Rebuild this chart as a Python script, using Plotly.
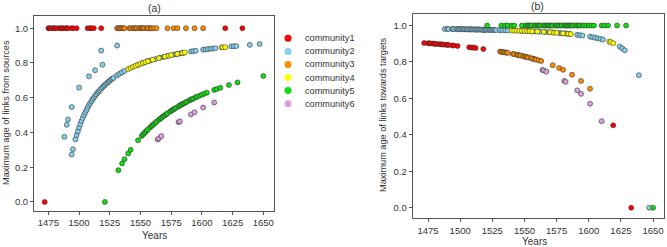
import plotly.graph_objects as go

W, H = 667, 247

names = ["community1", "community2", "community3", "community4", "community5", "community6"]
colors = ["#ff0000", "#87ceeb", "#ff8c00", "#ffff00", "#11dd11", "#dda0dd"]

# community1 (red)
c1_years = [1472, 1475, 1476, 1477, 1479, 1480, 1481, 1483, 1485, 1486, 1487, 1489, 1490,
            1491, 1494, 1495, 1498, 1507, 1509, 1510, 1512, 1518, 1557, 1619, 1633]
c1_src = [0.0] + [1.0] * 24
c1_tgt = [0.904, 0.903, 0.902, 0.902, 0.901, 0.900, 0.899, 0.898, 0.897, 0.896, 0.896, 0.894, 0.894,
          0.893, 0.891, 0.890, 0.888, 0.881, 0.879, 0.879, 0.877, 0.871, 0.817, 0.452, 0.0]

# community2 (sky blue)
c2_years = [1488, 1490, 1491, 1494, 1500, 1508, 1513, 1518, 1519, 1531,
            1494, 1495, 1497, 1498, 1499, 1500, 1501, 1502, 1503, 1504, 1505, 1506, 1507, 1508,
            1509, 1510, 1511, 1512, 1513, 1514, 1515, 1516, 1517, 1518, 1519, 1520, 1521, 1522,
            1523, 1524, 1525, 1526, 1527, 1528, 1531, 1533, 1535, 1537, 1548, 1552, 1556, 1558,
            1562, 1566, 1569, 1572, 1577, 1579, 1581, 1583, 1585, 1591, 1593, 1595, 1601, 1603,
            1605, 1607, 1609, 1611, 1624, 1626, 1628, 1639, 1647]
c2_src = [0.375, 0.444, 0.475, 0.546, 0.658, 0.723, 0.758, 0.871, 0.790, 0.900,
          0.273, 0.304, 0.360, 0.385, 0.407, 0.429, 0.448, 0.467, 0.484, 0.500, 0.515, 0.529,
          0.543, 0.556, 0.568, 0.579, 0.590, 0.600, 0.610, 0.619, 0.628, 0.636, 0.644, 0.652,
          0.660, 0.667, 0.673, 0.680, 0.686, 0.692, 0.698, 0.704, 0.709, 0.714, 0.729, 0.738,
          0.746, 0.754, 0.789, 0.800, 0.810, 0.814, 0.822, 0.830, 0.835, 0.840, 0.848, 0.850,
          0.853, 0.856, 0.858, 0.866, 0.868, 0.870, 0.876, 0.878, 0.880, 0.881, 0.883, 0.885,
          0.895, 0.896, 0.897, 0.904, 0.909]
c2_tgt = [0.981, 0.981, 0.981, 0.981, 0.980, 0.979, 0.978, 0.977, 0.977, 0.975,
          0.981, 0.981, 0.980, 0.980, 0.980, 0.980, 0.980, 0.980, 0.980, 0.979, 0.979, 0.979,
          0.979, 0.979, 0.979, 0.979, 0.978, 0.978, 0.978, 0.978, 0.978, 0.978, 0.977, 0.977,
          0.977, 0.977, 0.977, 0.977, 0.976, 0.976, 0.976, 0.976, 0.976, 0.975, 0.975, 0.974,
          0.974, 0.973, 0.971, 0.969, 0.968, 0.967, 0.966, 0.964, 0.963, 0.962, 0.959, 0.958,
          0.957, 0.955, 0.954, 0.949, 0.947, 0.945, 0.939, 0.936, 0.933, 0.930, 0.927, 0.923,
          0.885, 0.875, 0.864, 0.727, 0.0]

# community3 (orange)
c3_years = [1531, 1532, 1533, 1534, 1535, 1536, 1537, 1541, 1542, 1544, 1545, 1546, 1547, 1549,
            1550, 1551, 1552, 1553, 1555, 1556, 1558, 1559, 1561, 1563, 1572, 1577, 1580, 1587,
            1594, 1601]
c3_src = [1.0] * 30
c3_tgt = [0.857, 0.856, 0.855, 0.853, 0.852, 0.851, 0.850, 0.844, 0.843, 0.840, 0.838, 0.837,
          0.835, 0.832, 0.830, 0.828, 0.827, 0.825, 0.821, 0.819, 0.815, 0.813, 0.809, 0.805,
          0.782, 0.767, 0.757, 0.730, 0.696, 0.653]

# community4 (yellow)
c4_years = [1540, 1542, 1544, 1546, 1548, 1550, 1552, 1554, 1556, 1560, 1565, 1570, 1573, 1575,
            1580, 1584, 1586, 1616, 1617, 1619]
c4_src = [0.765, 0.771, 0.778, 0.784, 0.789, 0.795, 0.800, 0.805, 0.810, 0.818, 0.828, 0.837,
          0.842, 0.845, 0.852, 0.857, 0.860, 0.889, 0.890, 0.891]
c4_tgt = [0.973, 0.972, 0.972, 0.971, 0.971, 0.970, 0.969, 0.969, 0.968, 0.967, 0.965, 0.963,
          0.961, 0.960, 0.957, 0.955, 0.953, 0.912, 0.909, 0.903]

# community5 (green)
c5_years = [1521, 1532, 1535, 1537, 1540, 1542, 1548, 1551, 1552, 1553, 1554, 1555, 1556, 1558,
            1559, 1560, 1561, 1562, 1563, 1565, 1566, 1567, 1568, 1569, 1570, 1571, 1572, 1574,
            1575, 1576, 1577, 1578, 1579, 1581, 1582, 1583, 1584, 1585, 1586, 1587, 1588, 1590,
            1591, 1592, 1593, 1595, 1596, 1598, 1600, 1602, 1604, 1610, 1612, 1615, 1622, 1629,
            1650]
c5_src = [0.0, 0.183, 0.222, 0.246, 0.279, 0.300, 0.355, 0.380, 0.388, 0.395, 0.402, 0.410,
          0.417, 0.430, 0.437, 0.443, 0.449, 0.456, 0.462, 0.473, 0.479, 0.484, 0.490, 0.495,
          0.500, 0.505, 0.510, 0.520, 0.524, 0.529, 0.533, 0.538, 0.542, 0.550, 0.555, 0.559,
          0.563, 0.566, 0.570, 0.574, 0.578, 0.585, 0.588, 0.592, 0.595, 0.602, 0.605, 0.611,
          0.617, 0.623, 0.629, 0.645, 0.650, 0.657, 0.673, 0.688, 0.725]
c5_tgt = [1.0] * 56 + [0.0]

# community6 (plum)
c6_years = [1564, 1565, 1567, 1581, 1582, 1591, 1594, 1601, 1610]
c6_src = [0.359, 0.366, 0.379, 0.459, 0.464, 0.504, 0.516, 0.543, 0.572]
c6_tgt = [0.756, 0.753, 0.747, 0.696, 0.691, 0.644, 0.625, 0.571, 0.475]

groups = [
    (c1_years, c1_src, c1_tgt),
    (c2_years, c2_src, c2_tgt),
    (c3_years, c3_src, c3_tgt),
    (c4_years, c4_src, c4_tgt),
    (c5_years, c5_src, c5_tgt),
    (c6_years, c6_src, c6_tgt),
]

x_ticks = [1475, 1500, 1525, 1550, 1575, 1600, 1625, 1650]
y_ticks = [0.0, 0.2, 0.4, 0.6, 0.8, 1.0]

FONT = "Liberation Sans, Arial, sans-serif"
TXT = "#333333"

fig = go.Figure()
for (yrs, src, tgt), nm, col in zip(groups, names, colors):
    mk = dict(size=5, color=col, line=dict(color="#333333", width=0.6))
    fig.add_trace(go.Scatter(x=yrs, y=src, mode="markers", marker=mk, name=nm,
                             xaxis="x", yaxis="y", showlegend=False))
    fig.add_trace(go.Scatter(x=yrs, y=tgt, mode="markers", marker=mk, name=nm,
                             xaxis="x2", yaxis="y2", showlegend=False))

# manual legend (markers on a hidden helper axis)
leg_rows = [0, 1, 2, 3, 4, 5]
fig.add_trace(go.Scatter(x=[0] * 6, y=leg_rows, mode="markers",
                         marker=dict(size=7, color=colors), xaxis="x3", yaxis="y3",
                         showlegend=False, hoverinfo="skip"))

def px_x(p):
    return p / W

def px_y(p):
    return 1 - p / H

ax_common = dict(showgrid=False, zeroline=False, showline=True, mirror=True,
                 linecolor="#555555", linewidth=1, ticks="outside", ticklen=3,
                 tickcolor="#555555", tickfont=dict(family=FONT, size=9.5, color=TXT))

fig.update_layout(
    width=W, height=H, margin=dict(l=0, r=0, t=0, b=0),
    paper_bgcolor="white", plot_bgcolor="white", showlegend=False,
    xaxis=dict(domain=[px_x(34), px_x(274)], range=[1463.3, 1658.7], tickvals=x_ticks,
               anchor="y", **ax_common),
    yaxis=dict(domain=[px_y(211), px_y(15.5)], range=[-0.052, 1.073], tickvals=y_ticks,
               tickformat=".1f", anchor="x", **ax_common),
    xaxis2=dict(domain=[px_x(412.7), px_x(664)], range=[1463.1, 1658.5], tickvals=x_ticks,
                anchor="y2", **ax_common),
    yaxis2=dict(domain=[px_y(218.3), px_y(13.5)], range=[-0.058, 1.066], tickvals=y_ticks,
                tickformat=".1f", anchor="x2", **ax_common),
    xaxis3=dict(domain=[px_x(278), px_x(298)], range=[-1, 1], visible=False, anchor="y3"),
    yaxis3=dict(domain=[px_y(110.2), px_y(31.8)], range=[5.5, -0.5], visible=False, anchor="x3"),
)

ann = []
def add_text(text, x, y, size, rot=0, xanchor="center"):
    ann.append(dict(text=text, x=px_x(x), y=px_y(y), xref="paper", yref="paper",
                    showarrow=False, textangle=rot, xanchor=xanchor, yanchor="middle",
                    font=dict(family=FONT, size=size, color=TXT)))

add_text("(a)", 154, 8, 10.5)
add_text("(b)", 537, 6.5, 10.5)
add_text("Years", 154, 235, 10)
add_text("Years", 534, 241, 10)
add_text("Maximum age of links from sources", 6, 113, 9.2, rot=-90)
add_text("Maximum age of links towards targets", 383, 115, 9.2, rot=-90)
for i, nm in enumerate(names):
    add_text(nm, 303, 38.3 + 13.08 * i, 9.2, xanchor="left")

fig.update_layout(annotations=ann)
fig.write_html("out.html", config={"displayModeBar": False},
               post_script="document.body.style.margin='0';document.body.style.overflow='hidden';")
